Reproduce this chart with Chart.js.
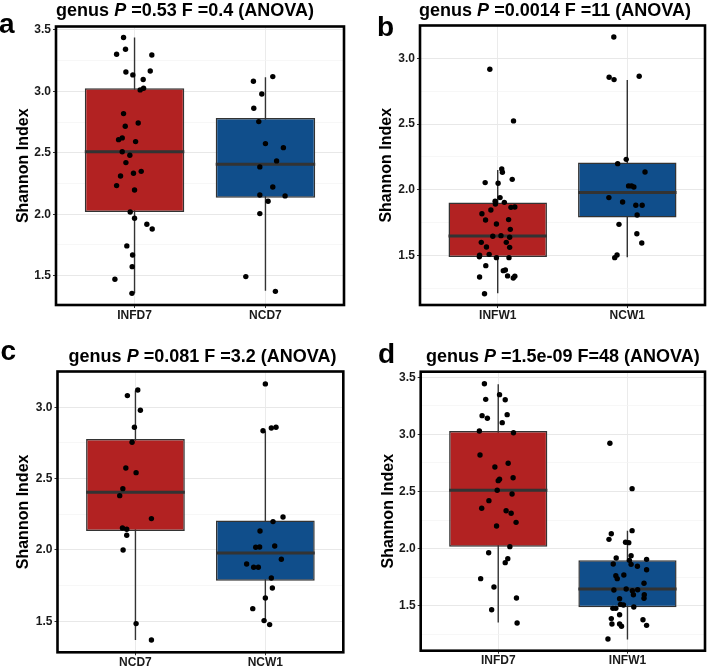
<!DOCTYPE html>
<html>
<head>
<meta charset="utf-8">
<script src="https://cdn.jsdelivr.net/npm/chart.js@4"></script>
<style>
  html, body { margin: 0; padding: 0; background: #fff; }
  body { position: relative; width: 709px; height: 668px; overflow: hidden; font-family: 'Liberation Sans', Arial, sans-serif; }
  canvas { position: absolute; }
  .ttl { position: absolute; white-space: nowrap; font: bold 18px 'Liberation Sans', Arial, sans-serif; line-height: 18px; color: #000; transform: translateX(-50%); }
  .lbl { position: absolute; white-space: nowrap; font: bold 28px 'Liberation Sans', Arial, sans-serif; line-height: 28px; color: #000; }
</style>
</head>
<body>
<canvas id="ca" width="354" height="334" style="left:0;top:0;width:354px;height:334px"></canvas>
<canvas id="cb" width="355" height="334" style="left:354px;top:0;width:355px;height:334px"></canvas>
<canvas id="cc" width="354" height="334" style="left:0;top:334px;width:354px;height:334px"></canvas>
<canvas id="cd" width="355" height="334" style="left:354px;top:334px;width:355px;height:334px"></canvas>

<div class="lbl" style="left:-1px;top:9.6px">a</div>
<div class="lbl" style="left:377px;top:13px">b</div>
<div class="lbl" style="left:0.5px;top:337.3px">c</div>
<div class="lbl" style="left:378px;top:339.6px">d</div>

<div class="ttl" style="left:185px;top:0.8px">genus <i>P</i> =0.53 F =0.4 (ANOVA)</div>
<div class="ttl" style="left:555px;top:0.8px">genus <i>P</i> =0.0014 F =11 (ANOVA)</div>
<div class="ttl" style="left:202.5px;top:346.8px">genus <i>P</i> =0.081 F =3.2 (ANOVA)</div>
<div class="ttl" style="left:562.8px;top:346.8px">genus <i>P</i> =1.5e-09 F=48 (ANOVA)</div>

<script>
// ---------------- DATA ----------------
const yAxisTitle = 'Shannon Index';
const fillColors = ['#B22222', '#104E8B'];

// tick values (majors labelled, minors only gridlines)
const majorTicks = [1.0, 1.5, 2.0, 2.5, 3.0, 3.5];
const minorTicks = [1.25, 1.75, 2.25, 2.75, 3.25];

// Panel a
const aCategories = ['INFD7', 'NCD7'];
const aYRange = [1.261, 3.528];
const aWhiskerLow = [1.356, 1.378];
const aQ1 = [2.018, 2.135];
const aMedian = [2.509, 2.406];
const aQ3 = [3.025, 2.784];
const aWhiskerHigh = [3.438, 3.115];
const aG1Values = [3.438,3.302,3.343,3.296,3.158,3.134,3.166,3.096,3.012,3.025,2.819,2.716,2.743,2.607,2.621,2.591,2.509,2.480,2.420,2.311,2.333,2.349,2.233,2.197,2.018,1.967,1.918,1.880,1.742,1.668,1.573,1.470,1.356];
const aG1Jitter = [-0.084,-0.137,-0.069,0.132,-0.066,-0.013,0.120,0.066,0.043,0.069,-0.084,-0.071,0.028,-0.122,-0.094,0.008,-0.094,-0.036,-0.066,-0.107,-0.008,0.051,-0.137,0.0,-0.033,0.0,0.094,0.135,-0.059,-0.015,-0.018,-0.150,-0.020];
const aG2Values = [3.120,3.082,2.979,2.862,2.754,2.575,2.542,2.434,2.385,2.222,2.157,2.149,2.105,2.005,1.492,1.372];
const aG2Jitter = [0.056,-0.092,-0.028,-0.089,-0.051,0.0,0.137,0.085,-0.043,0.056,-0.043,0.150,0.020,-0.043,-0.150,0.076];

// Panel b
const bCategories = ['INFW1', 'NCW1'];
const bYRange = [1.125, 3.249];
const bWhiskerLow = [1.214, 1.487];
const bQ1 = [1.490, 1.789];
const bMedian = [1.650, 1.979];
const bQ3 = [1.903, 2.207];
const bWhiskerHigh = [2.151, 2.835];
const bG1Values = [2.916,2.524,2.159,2.134,2.080,2.055,2.050,1.941,1.913,1.893,1.905,1.867,1.870,1.847,1.819,1.771,1.774,1.741,1.700,1.647,1.652,1.640,1.601,1.601,1.566,1.563,1.503,1.492,1.510,1.485,1.485,1.424,1.386,1.391,1.346,1.344,1.330,1.338,1.211];
const bG1Jitter = [-0.061,0.122,0.031,0.036,0.112,-0.097,0.003,0.018,-0.020,-0.018,0.051,0.102,0.132,-0.053,-0.122,-0.094,0.084,-0.010,0.097,-0.038,0.025,0.092,-0.127,0.066,-0.087,0.092,-0.140,-0.142,-0.066,-0.010,0.087,-0.092,0.043,0.059,0.076,0.132,0.120,-0.140,-0.102];
const bG2Values = [3.162,2.856,2.838,2.863,2.232,2.199,2.136,2.030,2.030,2.022,1.941,1.908,1.883,1.883,1.809,1.738,1.667,1.596,1.505,1.485];
const bG2Jitter = [-0.104,-0.140,-0.102,0.092,-0.008,-0.074,0.137,0.010,0.033,0.051,-0.142,-0.036,0.066,0.115,0.076,-0.064,0.074,0.112,-0.079,-0.097];

// Panel c
const cCategories = ['NCD7', 'NCW1'];
const cYRange = [1.283, 3.251];
const cWhiskerLow = [1.369, 1.493];
const cQ1 = [2.133, 1.785];
const cMedian = [2.404, 1.979];
const cQ3 = [2.778, 2.206];
const cWhiskerHigh = [3.117, 2.832];
const cG1Values = [3.121,3.082,2.979,2.860,2.755,2.575,2.542,2.430,2.381,2.220,2.154,2.145,2.103,2.000,1.484,1.369];
const cG1Jitter = [0.018,-0.062,0.038,-0.008,-0.026,-0.074,0.005,-0.097,-0.121,0.123,-0.100,-0.067,-0.067,-0.095,0.005,0.123];
const cG2Values = [3.164,2.836,2.855,2.860,2.231,2.199,2.133,2.019,2.021,2.028,1.902,1.879,1.879,1.935,1.804,1.734,1.664,1.589,1.505,1.477];
const cG2Jitter = [0.0,-0.018,0.046,0.082,0.136,0.059,-0.041,-0.074,-0.044,0.072,-0.144,-0.090,-0.054,0.123,0.046,0.054,0.0,-0.097,-0.010,0.033];

// Panel d
const dCategories = ['INFD7', 'INFW1'];
const dYRange = [1.106, 3.549];
const dWhiskerLow = [1.354, 1.205];
const dQ1 = [2.017, 1.486];
const dMedian = [2.511, 1.646];
const dQ3 = [3.030, 1.897];
const dWhiskerHigh = [3.440, 2.157];
const dG1Values = [3.444,3.348,3.304,3.307,3.173,3.164,3.141,3.103,3.030,3.015,2.820,2.747,2.715,2.607,2.595,2.621,2.511,2.478,2.420,2.353,2.332,2.309,2.230,2.198,2.017,1.964,1.912,1.877,1.737,1.664,1.567,1.465,1.349];
const dG1Jitter = [-0.107,0.010,0.054,-0.097,0.069,-0.125,-0.084,0.031,-0.146,0.118,-0.141,0.077,-0.026,0.010,0.0,0.115,-0.008,0.107,-0.072,-0.128,0.061,0.100,0.138,-0.013,0.090,-0.074,0.074,0.054,-0.136,-0.033,0.141,-0.051,0.146];
const dG2Values = [2.922,2.525,2.157,2.130,2.081,2.055,2.052,1.938,1.918,1.906,1.897,1.862,1.865,1.845,1.815,1.769,1.763,1.737,1.696,1.646,1.637,1.640,1.631,1.596,1.596,1.565,1.561,1.512,1.506,1.489,1.477,1.477,1.421,1.387,1.377,1.340,1.340,1.320,1.328,1.208];
const dG2Jitter = [-0.136,0.036,0.036,-0.125,-0.143,-0.015,0.010,0.028,-0.087,0.148,0.015,0.028,-0.110,0.077,0.148,-0.028,-0.090,-0.079,0.128,-0.010,-0.105,0.079,0.038,0.046,0.130,0.128,-0.061,-0.054,-0.031,0.049,-0.113,-0.090,-0.061,-0.125,0.120,-0.120,-0.061,-0.046,0.148,-0.151];

// ---------------- RENDER ----------------
const BOX_WIDTH = 0.76;
const FONT = "'Liberation Sans', Arial, sans-serif";
Chart.defaults.font.family = FONT;
Chart.defaults.color = '#1a1a1a';

const framePlugin = {
  id: 'frame',
  afterDatasetsDraw(chart) {
    const a = chart.chartArea, ctx = chart.ctx;
    ctx.save();
    ctx.strokeStyle = '#000';
    ctx.lineWidth = 2.6;
    ctx.strokeRect(a.left, a.top, a.right - a.left, a.bottom - a.top);
    ctx.restore();
  }
};

function isMajor(v) { return majorTicks.some(m => Math.abs(m - v) < 1e-9); }

function makePanel(id, p) {
  const catPos = p.categories.map((c, i) => i + 1);
  const whiskers = [], medians = [];
  catPos.forEach((x, i) => {
    whiskers.push({x: x, y: p.low[i]}, {x: x, y: p.high[i]}, {x: x + 0.5, y: null});
    medians.push({x: x - BOX_WIDTH / 2, y: p.med[i]}, {x: x + BOX_WIDTH / 2, y: p.med[i]}, {x: x + 0.5, y: null});
  });
  const boxes = catPos.map((x, i) => ({x: x, y: [p.q1[i], p.q3[i]]}));
  const pts = [];
  p.groups.forEach((g, gi) => {
    g.values.forEach((v, k) => pts.push({x: catPos[gi] + g.jitter[k], y: v}));
  });
  const allTicks = majorTicks.concat(minorTicks).sort((a, b) => a - b)
    .filter(v => v >= p.yRange[0] && v <= p.yRange[1]);

  new Chart(document.getElementById(id), {
    type: 'bar',
    data: {
      datasets: [
        { type: 'line', data: whiskers, borderColor: '#333333', borderWidth: 1.4, pointRadius: 0, spanGaps: false, order: 4 },
        { type: 'bar', data: boxes, backgroundColor: fillColors, borderColor: '#333333', borderWidth: 1.5,
          borderSkipped: false, barPercentage: BOX_WIDTH, categoryPercentage: 1, order: 3 },
        { type: 'line', data: medians, borderColor: '#333333', borderWidth: 3, pointRadius: 0, spanGaps: false, borderCapStyle: 'butt', order: 2 },
        { type: 'scatter', data: pts, backgroundColor: '#000', borderWidth: 0, pointRadius: 2.7, order: 1 }
      ]
    },
    options: {
      responsive: false,
      animation: false,
      events: [],
      layout: { padding: { left: 0, top: p.area.top, right: p.canvasW - p.area.right, bottom: 0 } },
      plugins: { legend: { display: false }, tooltip: { enabled: false } },
      scales: {
        x: {
          type: 'linear', min: 0.4, max: 2.6, offset: false,
          afterBuildTicks: s => { s.ticks = catPos.map(v => ({value: v})); },
          afterFit: s => { s.height = p.canvasH - p.area.bottom; },
          ticks: { callback: v => p.categories[Math.round(v) - 1] || '', font: { size: 12, weight: 'bold' }, color: '#1a1a1a', padding: 0, maxRotation: 0, autoSkip: false },
          grid: { offset: false, color: '#ebebeb', lineWidth: 1, tickColor: '#333333', tickLength: 3, tickWidth: 1 },
          border: { display: false }
        },
        y: {
          type: 'linear', min: p.yRange[0], max: p.yRange[1],
          afterBuildTicks: s => { s.ticks = allTicks.map(v => ({value: v})); },
          afterFit: s => { s.width = p.area.left; },
          ticks: { callback: v => isMajor(v) ? v.toFixed(1) : '', font: { size: 12, weight: 'bold' }, color: '#1a1a1a', padding: 2, autoSkip: false },
          grid: {
            color: c => isMajor(c.tick.value) ? '#e8e8e8' : '#f3f3f3',
            lineWidth: c => isMajor(c.tick.value) ? 1 : 0.7,
            tickColor: c => isMajor(c.tick.value) ? '#333333' : 'rgba(0,0,0,0)',
            tickLength: 3, tickWidth: 1
          },
          border: { display: false },
          title: { display: true, text: yAxisTitle, font: { size: 16, weight: 'bold' }, color: '#000', padding: { top: p.titlePad, bottom: 0 } }
        }
      }
    },
    plugins: [framePlugin]
  });
}

makePanel('ca', {
  categories: aCategories, yRange: aYRange, low: aWhiskerLow, q1: aQ1, med: aMedian, q3: aQ3, high: aWhiskerHigh,
  groups: [{values: aG1Values, jitter: aG1Jitter}, {values: aG2Values, jitter: aG2Jitter}],
  canvasW: 354, canvasH: 334, area: {left: 56, top: 26.5, right: 344, bottom: 305}, titlePad: 13.7
});
makePanel('cb', {
  categories: bCategories, yRange: bYRange, low: bWhiskerLow, q1: bQ1, med: bMedian, q3: bQ3, high: bWhiskerHigh,
  groups: [{values: bG1Values, jitter: bG1Jitter}, {values: bG2Values, jitter: bG2Jitter}],
  canvasW: 355, canvasH: 334, area: {left: 66, top: 25.5, right: 353.3, bottom: 305}, titlePad: 23.1
});
makePanel('cc', {
  categories: cCategories, yRange: cYRange, low: cWhiskerLow, q1: cQ1, med: cMedian, q3: cQ3, high: cWhiskerHigh,
  groups: [{values: cG1Values, jitter: cG1Jitter}, {values: cG2Values, jitter: cG2Jitter}],
  canvasW: 354, canvasH: 334, area: {left: 57.5, top: 37.5, right: 343.3, bottom: 318.3}, titlePad: 14.4
});
makePanel('cd', {
  categories: dCategories, yRange: dYRange, low: dWhiskerLow, q1: dQ1, med: dMedian, q3: dQ3, high: dWhiskerHigh,
  groups: [{values: dG1Values, jitter: dG1Jitter}, {values: dG2Values, jitter: dG2Jitter}],
  canvasW: 355, canvasH: 334, area: {left: 66.7, top: 37.7, right: 353.3, bottom: 316.7}, titlePad: 24.6
});
</script>
</body>
</html>
